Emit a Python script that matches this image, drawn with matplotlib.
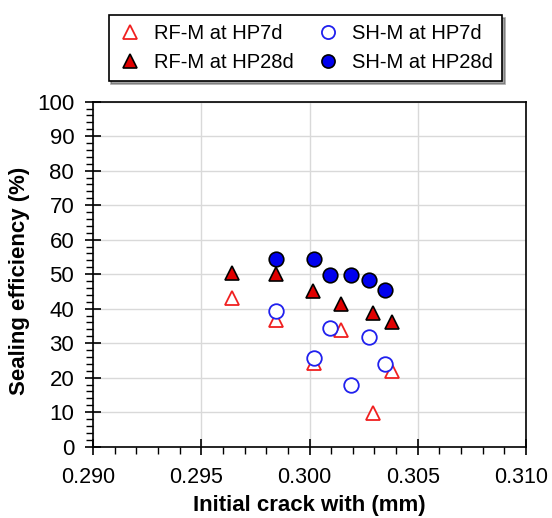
import matplotlib
matplotlib.use('Agg')
import matplotlib.pyplot as plt
import matplotlib.transforms as mtransforms
from matplotlib.ticker import MultipleLocator, FormatStrFormatter

plt.rcParams['font.family'] = ['Liberation Sans', 'DejaVu Sans']

# du lieu doc tu hinh
rf7_x = [0.29640, 0.29844, 0.30019, 0.30145, 0.30295, 0.30380]
rf7_y = [43.0, 36.8, 24.2, 33.8, 9.9, 22.0]
rf28_x = [0.29640, 0.29844, 0.30017, 0.30145, 0.30295, 0.30380]
rf28_y = [50.3, 50.0, 45.0, 41.5, 38.7, 36.2]
sh7_x = [0.29844, 0.30019, 0.30093, 0.30190, 0.30275, 0.30347]
sh7_y = [39.2, 25.7, 34.3, 17.9, 31.8, 24.1]
sh28_x = [0.29844, 0.30019, 0.30093, 0.30190, 0.30275, 0.30347]
sh28_y = [54.5, 54.5, 49.9, 49.9, 48.3, 45.4]

fig = plt.figure(figsize=(5.52, 5.18), dpi=100)
ax = fig.add_axes([93 / 552, 1 - 446.7 / 518, (526 - 93) / 552, (446.7 - 101.7) / 518])

ms = 10.5
h1, = ax.plot(rf7_x, rf7_y, '^', ms=ms, mfc='white', mec='#f02020', mew=1.3, ls='none')
h3, = ax.plot(sh7_x, sh7_y, 'o', ms=ms, mfc='white', mec='#2020ee', mew=1.3, ls='none')
h2, = ax.plot(rf28_x, rf28_y, '^', ms=ms, mfc='#e00000', mec='black', mew=1.2, ls='none')
h4, = ax.plot(sh28_x, sh28_y, 'o', ms=ms, mfc='#0000ee', mec='black', mew=1.2, ls='none')

ax.set_xlim(0.290, 0.310)
ax.set_ylim(0, 100)
ax.xaxis.set_major_locator(MultipleLocator(0.005))
ax.xaxis.set_minor_locator(MultipleLocator(0.001))
ax.yaxis.set_major_locator(MultipleLocator(10))
ax.yaxis.set_minor_locator(MultipleLocator(2))
ax.xaxis.set_major_formatter(FormatStrFormatter('%.3f'))
ax.grid(True, which='major', color='#d9d9d9', lw=1)
ax.set_axisbelow(True)
ax.tick_params(which='major', direction='inout', length=11, width=1.2, labelsize=16)
ax.tick_params(axis='x', which='major', labelsize=15.5)
ax.tick_params(axis='y', which='major', pad=8)
ax.tick_params(axis='x', which='major', pad=9)
ax.tick_params(which='minor', direction='out', length=5, width=1)
for s in ax.spines.values():
    s.set_linewidth(1.2)

# nhan truc x hoi lech trai nhu hinh goc
dx = mtransforms.ScaledTranslation(-5 / 100, 0, fig.dpi_scale_trans)
for lb in ax.get_xticklabels():
    lb.set_transform(lb.get_transform() + dx)

ax.set_xlabel('Initial crack with (mm)', fontsize=16, fontweight='bold', labelpad=5)
ax.set_ylabel('Sealing efficiency (%)', fontsize=16, fontweight='bold')
ax.yaxis.set_label_coords(-0.145, 0.48)

leg = fig.legend([h1, h2, h3, h4], ['RF-M at HP7d', 'RF-M at HP28d', 'SH-M at HP7d', 'SH-M at HP28d'],
                 ncol=2, loc='upper center', bbox_to_anchor=(0.553, 0.99), fontsize=14.5,
                 frameon=True, fancybox=False, shadow=True, edgecolor='black',
                 handlelength=1.2, handletextpad=0.6, columnspacing=1.1, borderpad=0.45,
                 labelspacing=0.5, markerscale=0.9)
leg.get_frame().set_linewidth(1.2)

fig.savefig('out.png', dpi=100)
